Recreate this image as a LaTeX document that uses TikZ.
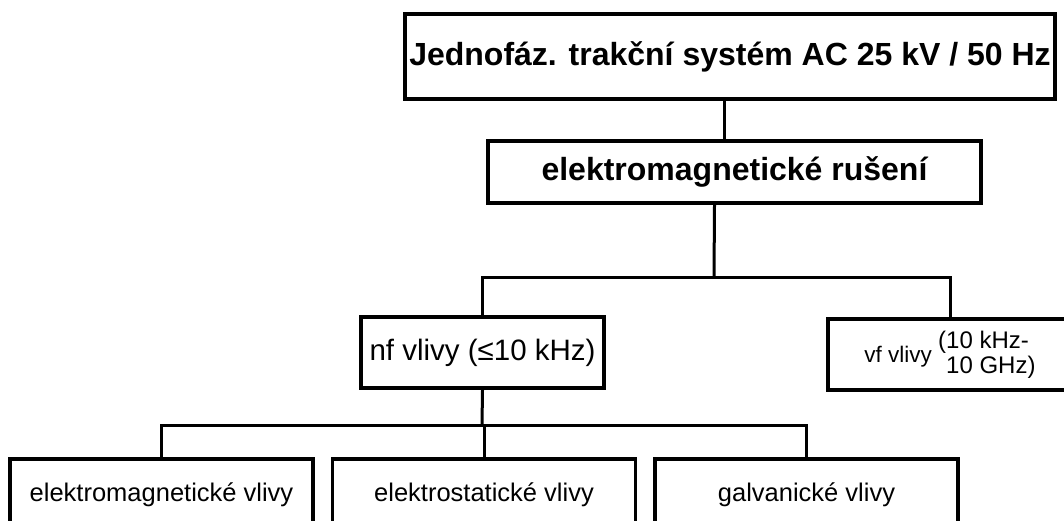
\documentclass[tikz,border=0pt]{standalone}
\usepackage{fontspec}
\setmainfont{Liberation Sans}

\begin{document}
\begin{tikzpicture}[x=1pt,y=-1pt,line width=3pt,
  box/.style={draw,line width=3.5pt,inner sep=0pt,align=center},
  headbox/.style={box,font=\fontsize{32}{36}\selectfont\bfseries},
  leafbox/.style={box,minimum width=303pt,minimum height=72pt,font=\fontsize{25.5}{29}\selectfont}]
\clip (0,0) rectangle (1064,520);
% ---------- upper levels ----------
\node[headbox,minimum width=650pt,minimum height=85pt] (sys) at (730,56.5)
  {Jednofáz. trakční systém AC 25 kV / 50 Hz};
\node[headbox,minimum width=493pt,minimum height=62pt] (rus) at (734.5,172)
  {elektromagnetické rušení};
% ---------- nf / vf ----------
\node[box,minimum width=243pt,minimum height=71pt,font=\fontsize{29.5}{33}\selectfont] (nf) at (482.5,352.5)
  {nf vlivy (≤10 kHz)};
\node[box,minimum width=244pt,minimum height=71pt,font=\fontsize{22.5}{25}\selectfont] (vf) at (950,354.5)
  {vf vlivy \raisebox{-11pt}{\fontsize{24}{26}\selectfont\shortstack[l]{(10 kHz-\\\phantom{(}10 GHz)}}};
% ---------- leaves ----------
\node[leafbox] (em) at (161.5,495) {elektromagnetické vlivy};
\node[leafbox] (es) at (484,495) {elektrostatické vlivy};
\node[leafbox] (gal) at (806.5,495) {galvanické vlivy};
% ---------- connectors ----------
\coordinate (busA) at (714,277);
\coordinate (busB) at (482,425);
\draw ([xshift=-6pt]sys.south) -- ([xshift=-6pt]sys.south |- rus.north);
\draw ([xshift=-20pt]rus.south) -- (busA);
\draw (nf.north) -- (nf.north |- busA) -- (vf.north |- busA) -- (vf.north);
\draw (nf.south) -- (busB);
\draw (em.north) -- (em.north |- busB) -- (gal.north |- busB) -- (gal.north);
\draw (es.north) -- (es.north |- busB);
\end{tikzpicture}
\end{document}
